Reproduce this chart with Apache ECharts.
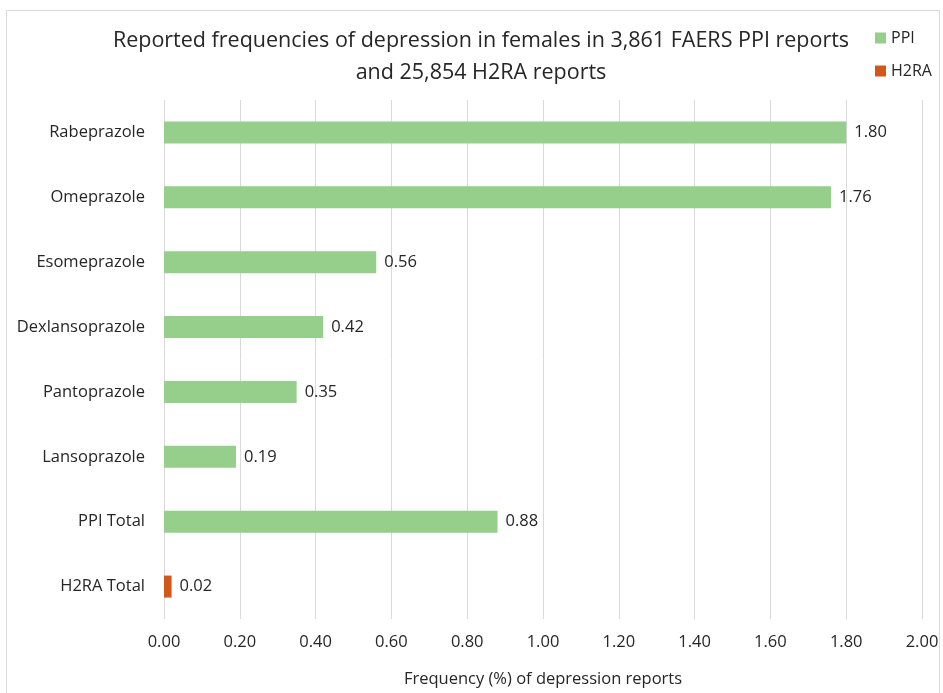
<!DOCTYPE html>
<html>
<head>
<meta charset="utf-8">
<script src="https://cdn.jsdelivr.net/npm/echarts@6/dist/echarts.min.js"></script>
<style>
  html, body { margin: 0; padding: 0; background: #fff; }
  #chart { width: 943px; height: 693px; }
</style>
</head>
<body>
<div id="chart"></div>
<script>
// categories top to bottom
var drugs = ['Rabeprazole', 'Omeprazole', 'Esomeprazole', 'Dexlansoprazole',
  'Pantoprazole', 'Lansoprazole', 'PPI Total', 'H2RA Total'];
var ppiValues = [1.80, 1.76, 0.56, 0.42, 0.35, 0.19, 0.88, '-'];
var h2raValues = ['-', '-', '-', '-', '-', '-', '-', 0.02];
var xTicks = [0, 0.2, 0.4, 0.6, 0.8, 1.0, 1.2, 1.4, 1.6, 1.8, 2.0];

var font = 'Open Sans';
var txt = '#262626';

var labelOpt = {
  show: true,
  position: 'right',
  distance: 8,
  fontFamily: font,
  fontSize: 16.5,
  color: txt,
  formatter: function (p) { return p.value.toFixed(2); }
};

var option = {
  backgroundColor: '#fff',
  animation: false,
  title: {
    text: 'Reported frequencies of depression in females in 3,861 FAERS PPI reports\nand 25,854 H2RA reports',
    left: 481,
    textAlign: 'center',
    top: 25,
    padding: 0,
    textStyle: {
      fontFamily: font,
      fontSize: 21.5,
      fontWeight: 'normal',
      color: txt,
      lineHeight: 32
    }
  },
  legend: {
    orient: 'vertical',
    left: 875,
    top: 30,
    padding: 0,
    itemWidth: 11,
    itemHeight: 11,
    itemGap: 17,
    icon: 'rect',
    textStyle: { fontFamily: font, fontSize: 16, color: txt },
    data: ['PPI', 'H2RA']
  },
  graphic: [{
    type: 'rect',
    shape: { x: 6.5, y: 10.5, width: 933, height: 690 },
    style: { fill: 'none', stroke: '#d9d9d9', lineWidth: 1 },
    silent: true
  }],
  grid: {
    left: 164,
    right: 21,
    top: 100,
    bottom: 74
  },
  xAxis: {
    type: 'value',
    min: xTicks[0],
    max: xTicks[xTicks.length - 1],
    interval: 0.2,
    name: 'Frequency (%) of depression reports',
    nameLocation: 'middle',
    nameGap: 52,
    nameTextStyle: { fontFamily: font, fontSize: 16.5, color: txt },
    axisLine: { show: false },
    axisTick: { show: false },
    axisLabel: {
      fontFamily: font,
      fontSize: 16.5,
      color: txt,
      margin: 15,
      formatter: function (v) { return v.toFixed(2); }
    },
    splitLine: { show: true, lineStyle: { color: '#d9d9d9', width: 1 } }
  },
  yAxis: {
    type: 'category',
    inverse: true,
    data: drugs,
    axisLine: { show: false },
    axisTick: { show: false },
    axisLabel: { fontFamily: font, fontSize: 16.5, color: txt, margin: 19 }
  },
  series: [
    {
      name: 'PPI',
      type: 'bar',
      data: ppiValues,
      barWidth: 22,
      barGap: '-100%',
      itemStyle: { color: '#95cf8b' },
      label: labelOpt
    },
    {
      name: 'H2RA',
      type: 'bar',
      data: h2raValues,
      barWidth: 22,
      barGap: '-100%',
      itemStyle: { color: '#d2571b' },
      label: labelOpt
    }
  ]
};

var myChart = echarts.init(document.getElementById('chart'));
myChart.setOption(option);
</script>
</body>
</html>
